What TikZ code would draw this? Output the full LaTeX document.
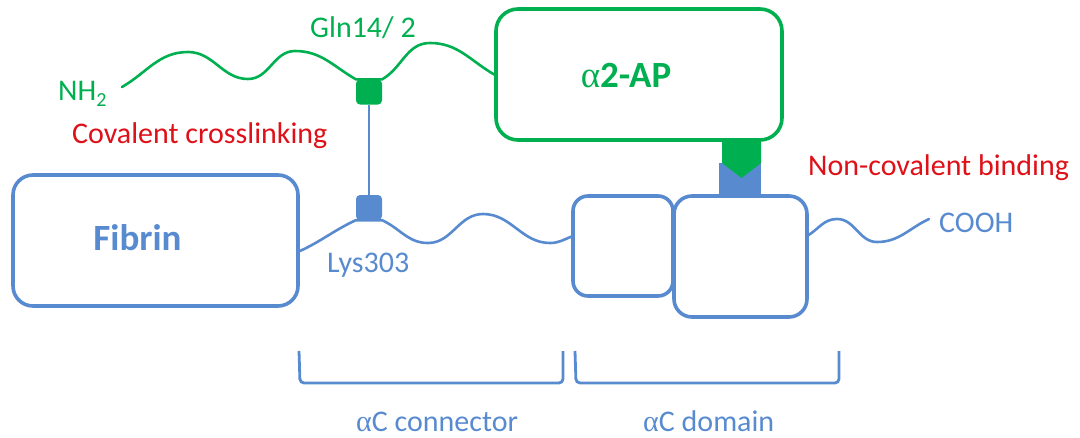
\documentclass[tikz,border=0pt]{standalone}
\usepackage{fontspec}
\setmainfont{Carlito}
\newfontfamily\greekfont{Liberation Serif}
\definecolor{fibblue}{RGB}{88,138,208}
\definecolor{apgreen}{RGB}{0,176,80}
\definecolor{bindred}{RGB}{222,16,24}
\tikzset{
  box/.style={draw, line width=3.6pt, rounded corners=20pt, inner sep=0pt},
  bluebox/.style={box, draw=fibblue},
  greenbox/.style={box, draw=apgreen},
  chain/.style={line width=2.6pt, line cap=round},
  site/.style={rounded corners=4pt, minimum width=26pt, minimum height=25pt, inner sep=0pt},
  lbl/.style={font=\fontsize{30}{36}\selectfont, inner sep=0pt, anchor=base west},
  biglbl/.style={font=\bfseries\fontsize{37}{44}\selectfont, inner sep=0pt, anchor=base},
  bracket/.style={draw=fibblue, line width=2.8pt, rounded corners=4pt},
}
\begin{document}
\begin{tikzpicture}[x=1pt,y=-1pt]
\useasboundingbox (0,0) rectangle (1080,437);

% domains
\node[bluebox, minimum width=285pt, minimum height=131pt] (fibrin) at (155.5,240.5) {};
\node[greenbox, minimum width=286pt, minimum height=131pt, rounded corners=22pt] (ap) at (639,74.5) {};
\node[bluebox, minimum width=100pt, minimum height=100pt, rounded corners=15pt] (dom1) at (623,246) {};
\node[bluebox, minimum width=133pt, minimum height=121pt, rounded corners=18pt] (dom2) at (740.5,256.5) {};

% crosslink sites
\node[site, fill=apgreen] (gln) at (369,92) {};
\node[site, fill=fibblue] (lys) at (369,207.5) {};

% chain ends
\coordinate (nterm) at (122,87);
\coordinate (cterm) at (929,219);
\coordinate (fibout) at (300,251);
\coordinate (d1in) at (573,236);
\coordinate (d2out) at (807,236);

% alpha2-antiplasmin chain
\draw[chain, apgreen] (nterm) to[out=30,in=180] (188,52) to[out=0,in=180] (248,79)
  to[out=0,in=180] (295,51) to[out=0,in=150] (gln.north west) -- (gln.north east)
  to[out=30,in=180] (430,43) to[out=0,in=150] (ap.west);

% fibrin alphaC chain
\draw[chain, fibblue] (fibout) to[out=25,in=205] (lys.south west) -- (lys.south east)
  to[out=-25,in=180] (428,243) to[out=0,in=180] (483,214) to[out=0,in=180] (550,243)
  to[out=0,in=200] (d1in);
\draw[chain, fibblue] (dom1.east |- 0,237) -- (dom2.west |- 0,237);
\draw[chain, fibblue] (d2out) to[out=30,in=180] (837,219) to[out=0,in=180] (877,242)
  to[out=0,in=205] (cterm);

% covalent crosslink
\draw[fibblue, line width=2.5pt] (gln) -- (lys);

% non-covalent binding
\fill[fibblue] (719,163) rectangle (761,196);
\fill[apgreen] (722,140) -- (761,140) -- (761,163) -- (741.5,178) -- (722,163) -- cycle;

% region brackets
\draw[bracket] (299,351) -- (300,383) -- (563,383) -- (563,351);
\draw[bracket] (575,351) -- (576,383) -- (839,383) -- (839,351);

% labels
\node[lbl, text=apgreen] (nh2) at (58,100) {NH\raisebox{-6pt}{\fontsize{20}{20}\selectfont 2}};
\node[lbl, text=apgreen] (glnlbl) at (310,37) {Gln14/ 2};
\node[lbl, text=bindred] (cov) at (72,143) {Covalent crosslinking};
\node[biglbl, text=fibblue] (fiblbl) at (137.5,250) {Fibrin};
\node[lbl, text=fibblue] (lyslbl) at (327,272) {Lys303};
\node[biglbl, text=apgreen] (aplbl) at (626,87) {{\greekfont\mdseries α}2-AP};
\node[lbl, text=bindred] (ncov) at (808,175) {Non-covalent binding};
\node[lbl, text=fibblue] (cooh) at (939,232) {COOH};
\node[lbl, text=fibblue] (connlbl) at (356,431) {{\greekfont α}C connector};
\node[lbl, text=fibblue] (domlbl) at (643,431) {{\greekfont α}C domain};
\end{tikzpicture}
\end{document}
